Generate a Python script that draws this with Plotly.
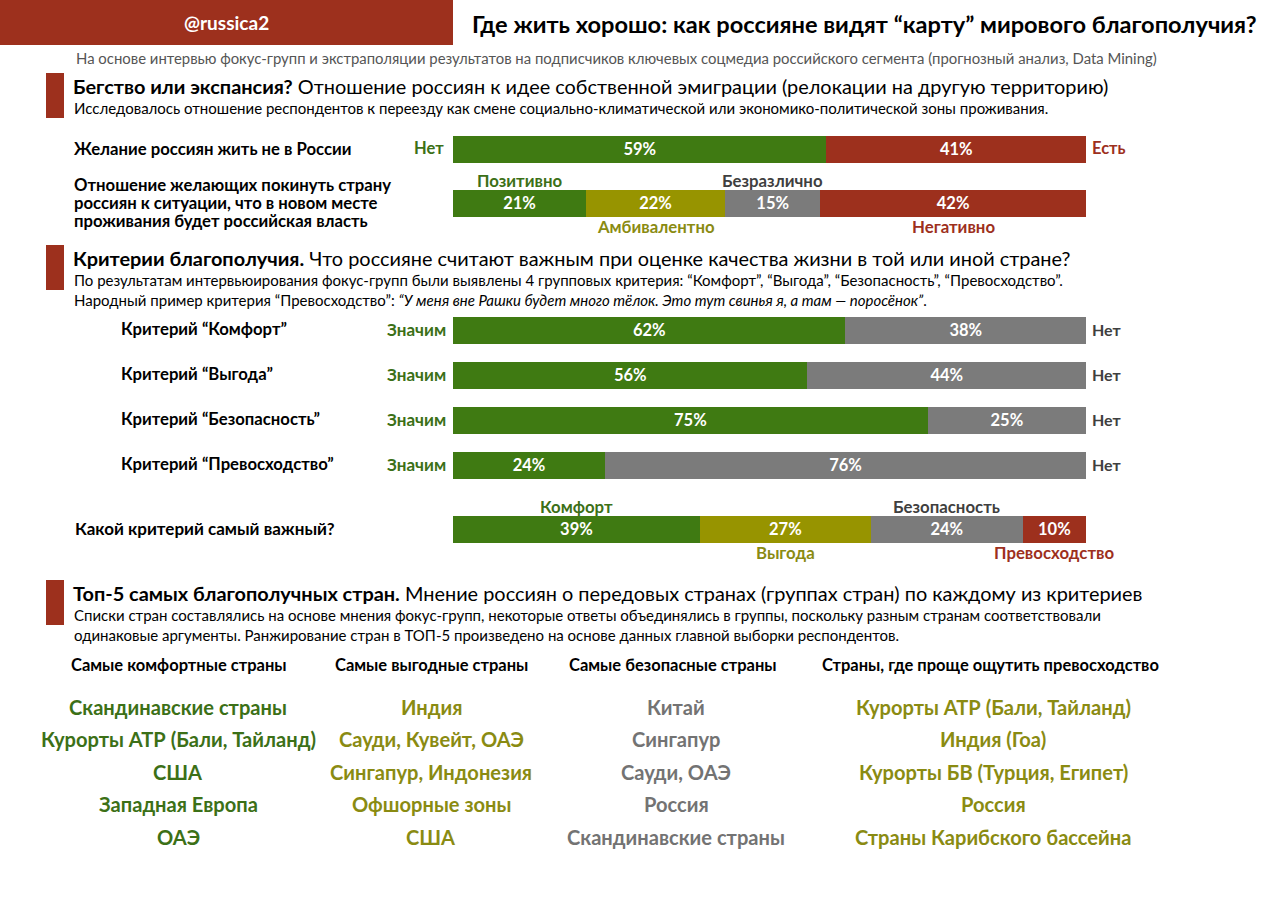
import plotly.graph_objects as go

# ---------------- data ----------------
wish_parts = ["Нет", "Есть"]
wish_values = [59, 41]

attitude_parts = ["Позитивно", "Амбивалентно", "Безразлично", "Негативно"]
attitude_values = [21, 22, 15, 42]

criteria_names = ["Критерий “Комфорт”", "Критерий “Выгода”", "Критерий “Безопасность”", "Критерий “Превосходство”"]
criteria_yes = [62, 56, 75, 24]
criteria_no = [38, 44, 25, 76]

top_parts = ["Комфорт", "Выгода", "Безопасность", "Превосходство"]
top_values = [39, 27, 24, 10]

col_titles = ["Самые комфортные страны", "Самые выгодные страны", "Самые безопасные страны",
              "Страны, где проще ощутить превосходство"]
comfort_countries = ["Скандинавские страны", "Курорты АТР (Бали, Тайланд)", "США", "Западная Европа", "ОАЭ"]
benefit_countries = ["Индия", "Сауди, Кувейт, ОАЭ", "Сингапур, Индонезия", "Офшорные зоны", "США"]
safety_countries = ["Китай", "Сингапур", "Сауди, ОАЭ", "Россия", "Скандинавские страны"]
superior_countries = ["Курорты АТР (Бали, Тайланд)", "Индия (Гоа)", "Курорты БВ (Турция, Египет)", "Россия",
                      "Страны Карибского бассейна"]

# ---------------- style ----------------
W, H = 1280, 905
FONT = "Lato"
GREEN = "#3f7a12"
RED = "#9d301d"
OLIVE = "#979400"
GRAY = "#7b7b7b"
OLIVE_TXT = "#8a8b12"
GREEN_TXT = "#3c7017"
DARK = "#3f3f3f"

BAR_X0, BAR_X1 = 453, 1086
BAR_H = 27

fig = go.Figure()
annotations = []
shapes = []


def px(x):
    return x / W


def note(x, y, text, size=15, color="black", anchor="left", bold=False):
    if bold:
        text = "<b>" + text + "</b>"
    annotations.append(dict(x=px(x), y=y, xref="paper", yref="y", text=text, showarrow=False,
                            xanchor=anchor, yanchor="middle", align=anchor if anchor != "center" else "center",
                            font=dict(family=FONT, size=size, color=color)))


def bar_row(yc, values, colors):
    for v, c in zip(values, colors):
        fig.add_trace(go.Bar(x=[v], y=[yc], orientation="h", width=BAR_H, marker_color=c,
                             marker_line_width=0, text=[f"<b>{v}%</b>"], textposition="inside",
                             insidetextanchor="middle", textangle=0, constraintext="none",
                             textfont=dict(family=FONT, size=16.5, color="white"),
                             hoverinfo="skip"))


def seg_labels(yc, values, names, colors):
    # alternate labels above / below bar, centred on each segment
    left = 0
    for i, (v, n, c) in enumerate(zip(values, names, colors)):
        mid = left + v / 2
        y = yc - 23 if i % 2 == 0 else yc + 23
        annotations.append(dict(x=mid, y=y, xref="x", yref="y", text="<b>" + n + "</b>", showarrow=False,
                                xanchor="center", yanchor="middle",
                                font=dict(family=FONT, size=16.8, color=c)))
        left += v


def section(y0, head_bold, head_rest, lines):
    shapes.append(dict(type="rect", xref="paper", yref="y", x0=px(46), x1=px(64), y0=y0, y1=y0 + 45,
                       fillcolor=RED, line_width=0))
    note(71, y0 + 13, "<b>" + head_bold + "</b> " + head_rest, size=19.9)
    for k, ln in enumerate(lines):
        note(72, y0 + 35 + 20 * k, ln, size=15)


# ---------------- header ----------------
shapes.append(dict(type="rect", xref="paper", yref="y", x0=0, x1=px(453), y0=0, y1=45,
                   fillcolor=RED, line_width=0))
note(226, 22, "@russica2", size=19, color="white", anchor="center", bold=True)
note(470, 24, "Где жить хорошо: как россияне видят “карту” мирового благополучия?", size=23.6, bold=True)
note(74, 58, "На основе интервью фокус-групп и экстраполяции результатов на подписчиков ключевых соцмедиа "
             "российского сегмента (прогнозный анализ, Data Mining)", size=14.9, color="#555555")

# ---------------- section 1 ----------------
section(73, "Бегство или экспансия?",
        "Отношение россиян к идее собственной эмиграции (релокации на другую территорию)",
        ["Исследовалось отношение респондентов к переезду как смене социально-климатической или "
         "экономико-политической зоны проживания."])

y1 = 149
bar_row(y1, wish_values, [GREEN, RED])
note(72, y1, "Желание россиян жить не в России", size=16.7, bold=True)
note(446, y1 - 1, wish_parts[0], size=16.5, color=GREEN_TXT, anchor="right", bold=True)
note(1090, y1 - 1, wish_parts[1], size=16.5, color=RED, bold=True)

y2 = 203
bar_row(y2, attitude_values, [GREEN, OLIVE, GRAY, RED])
seg_labels(y2, attitude_values, attitude_parts, [GREEN_TXT, OLIVE_TXT, DARK, RED])
attitude_label = ["Отношение желающих покинуть страну", "россиян к ситуации, что в новом месте",
                  "проживания будет российская власть"]
for k, ln in enumerate(attitude_label):
    note(72, y2 - 18 + 18 * k, ln, size=16.7, bold=True)

# ---------------- section 2 ----------------
section(245, "Критерии благополучия.",
        "Что россияне считают важным при оценке качества жизни в той или иной стране?",
        ["По результатам интервьюирования фокус-групп были выявлены 4 групповых критерия: “Комфорт”, "
         "“Выгода”, “Безопасность”, “Превосходство”.",
         "Народный пример критерия “Превосходство”: <i>“У меня вне Рашки будет много тёлок. "
         "Это тут свинья я, а там — поросёнок”</i>."])

crit_y = [330, 375, 420, 465]
for name, yes, no, yc in zip(criteria_names, criteria_yes, criteria_no, crit_y):
    bar_row(yc, [yes, no], [GREEN, GRAY])
    note(119, yc - 1, name, size=16.7, bold=True)
    note(448, yc - 1, "Значим", size=17, color=GREEN_TXT, anchor="right", bold=True)
    note(1090, yc - 1, "Нет", size=16, color=DARK, bold=True)

y3 = 529
bar_row(y3, top_values, [GREEN, OLIVE, GRAY, RED])
seg_labels(y3, top_values, top_parts, [GREEN_TXT, OLIVE_TXT, DARK, RED])
note(73, y3 - 1, "Какой критерий самый важный?", size=17, bold=True)

# ---------------- section 3 ----------------
section(580, "Топ-5 самых благополучных стран.",
        "Мнение россиян о передовых странах (группах стран) по каждому из критериев",
        ["Списки стран составлялись на основе мнения фокус-групп, некоторые ответы объединялись в группы, "
         "поскольку разным странам соответствовали",
         "одинаковые аргументы. Ранжирование стран в ТОП-5 произведено на основе данных главной выборки "
         "респондентов."])

col_x = [179, 431, 673, 990]
list_x = [178, 431, 676, 993]
lists = [comfort_countries, benefit_countries, safety_countries, superior_countries]
list_colors = [GREEN_TXT, OLIVE_TXT, "#737373", OLIVE_TXT]
row_y = [707, 739, 772, 804, 837]
for t, cx in zip(col_titles, col_x):
    note(cx, 665, t, size=16.5, anchor="center", bold=True)
for items, lx, c in zip(lists, list_x, list_colors):
    for it, ry in zip(items, row_y):
        note(lx, ry, it, size=20.1, color=c, anchor="center", bold=True)

fig.update_layout(
    width=W, height=H,
    margin=dict(l=0, r=0, t=0, b=0),
    barmode="stack",
    showlegend=False,
    paper_bgcolor="white",
    plot_bgcolor="white",
    xaxis=dict(domain=[px(BAR_X0), px(BAR_X1)], range=[0, 100], visible=False, fixedrange=True),
    yaxis=dict(domain=[0, 1], range=[H, 0], visible=False, fixedrange=True),
    annotations=annotations,
    shapes=shapes,
    font=dict(family=FONT),
)

# the page body has a default 8px margin - drop it so the figure sits at the corner
fig.write_html("out.html", config={"displayModeBar": False},
               post_script="document.body.style.margin='0';document.body.style.overflow='hidden';")
